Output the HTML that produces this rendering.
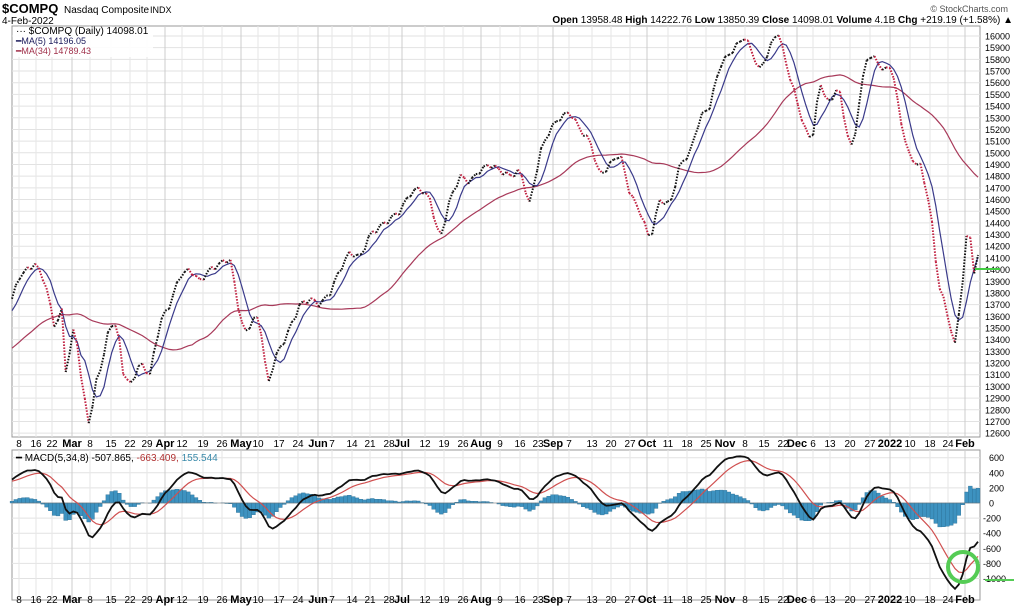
<!DOCTYPE html>
<html><head><meta charset="utf-8"><style>
body{margin:0;background:#fff;width:1024px;height:608px;overflow:hidden;font-family:"Liberation Sans",sans-serif}
svg text{font-family:"Liberation Sans",sans-serif}
</style></head><body>
<svg id="s" width="1024" height="608" xmlns="http://www.w3.org/2000/svg">
<text x="2" y="13" font-size="13" font-weight="bold">$COMPQ</text>
<text x="64" y="13" font-size="10">Nasdaq Composite</text><text x="150" y="13" font-size="9">INDX</text>
<text x="2" y="24" font-size="10">4-Feb-2022</text>
<text x="1008" y="12" font-size="9" fill="#555" text-anchor="end">© StockCharts.com</text>
<text x="1013" y="23" font-size="10" text-anchor="end"><tspan font-weight="bold">Open</tspan> 13958.48 <tspan font-weight="bold">High</tspan> 14222.76 <tspan font-weight="bold">Low</tspan> 13850.39 <tspan font-weight="bold">Close</tspan> 14098.01 <tspan font-weight="bold">Volume</tspan> 4.1B <tspan font-weight="bold">Chg</tspan> +219.19 (+1.58%) ▲</text>
<g id="g"></g>
<rect x="13" y="27" width="140" height="30" fill="#fff" opacity="0.9"/>
<text x="16" y="34" font-size="10" font-family="Liberation Mono">··· $COMPQ (Daily) 14098.01</text>
<text x="16" y="44" font-size="9" fill="#1a1a5a">━MA(5) 14196.05</text>
<text x="16" y="54" font-size="9" fill="#a0304a">━MA(34) 14789.43</text>
<text x="16" y="461" font-size="10">━ MACD(5,34,8) -507.865, <tspan fill="#b03030">-663.409,</tspan> <tspan fill="#3a8aaa">155.544</tspan></text>
</svg>
<script>
const g=document.getElementById('g');let h='';
const X0=12,X1=980,PT=26,PB=437,MT=450,MB=600;
const py=v=>36+(16000-v)*0.1168, my=v=>503-v*0.0755;
h+=`<rect x="${X0}" y="${PT}" width="${X1-X0}" height="${PB-PT}" fill="none" stroke="#999"/>`;
h+=`<rect x="${X0}" y="${MT}" width="${X1-X0}" height="${MB-MT}" fill="none" stroke="#999"/>`;
for(let v=12600;v<=16000;v+=100){let y=py(v);h+=`<line x1="${X0}" x2="${X1}" y1="${y}" y2="${y}" stroke="#e2e2e2"/><text x="985" y="${y+3.5}" font-size="9">${v}</text>`;}
for(let v=-1000;v<=600;v+=200){let y=my(v);h+=`<line x1="${X0}" x2="${X1}" y1="${y}" y2="${y}" stroke="#e2e2e2"/><text x="${v<0?983:989}" y="${y+3.5}" font-size="9">${v}</text>`;}
const L=[[19,'8'],[36,'16'],[52,'22'],[72,'Mar',1],[90,'8'],[111,'15'],[130,'22'],[147,'29'],[165,'Apr',1],[182,'12'],[203,'19'],[222,'26'],[241,'May',1],[258,'10'],[279,'17'],[298,'24'],[318,'Jun',1],[332,'7'],[352,'14'],[370,'21'],[389,'28'],[402,'Jul',1],[425,'12'],[444,'19'],[463,'26'],[481,'Aug',1],[500,'9'],[520,'16'],[538,'23'],[553,'Sep',1],[569,'7'],[592,'13'],[611,'20'],[630,'27'],[647,'Oct',1],[668,'11'],[687,'18'],[706,'25'],[725,'Nov',1],[745,'8'],[764,'15'],[783,'22'],[797,'Dec',1],[813,'6'],[830,'13'],[850,'20'],[870,'27'],[890,'2022',1],[910,'10'],[930,'18'],[948,'24'],[965,'Feb',1]];
for(const [x,t,b] of L){h+=`<line x1="${x}" x2="${x}" y1="${PT}" y2="${PB}" stroke="${b?'#ccc':'#e6e6e6'}"/><line x1="${x}" x2="${x}" y1="${MT}" y2="${MB}" stroke="${b?'#ccc':'#e6e6e6'}"/>`;
for(const y of [447,603])h+=`<text x="${x}" y="${y}" font-size="${b?11:10}" ${b?'font-weight="bold"':''} text-anchor="middle">${t}</text>`;}
const K=[[12,13750],[20,13950],[35,14050],[45,13900],[55,13500],[62,13650],[66,13100],[75,13550],[82,13000],[90,12650],[95,13000],[105,13300],[110,13550],[118,13500],[122,13150],[130,13000],[140,13200],[150,13100],[160,13550],[170,13700],[180,13950],[190,14000],[200,13900],[210,14000],[220,14050],[230,14100],[240,13600],[245,13450],[255,13600],[260,13550],[268,13000],[275,13250],[282,13350],[290,13500],[300,13700],[310,13750],[320,13700],[330,13800],[340,14000],[350,14150],[360,14100],[370,14300],[385,14400],[400,14500],[410,14650],[420,14700],[430,14600],[440,14250],[450,14600],[460,14800],[470,14750],[480,14850],[490,14900],[500,14850],[510,14800],[520,14850],[530,14550],[540,15000],[550,15200],[560,15300],[570,15350],[580,15200],[590,15100],[600,14800],[610,14900],[620,15000],[630,14650],[640,14500],[650,14250],[660,14600],[670,14550],[680,14900],[690,15000],[700,15300],[710,15400],[720,15750],[730,15850],[740,15950],[745,16000],[755,15800],[760,15700],[770,15900],[778,16050],[785,15800],[795,15500],[805,15200],[812,15100],[820,15600],[830,15400],[838,15600],[845,15250],[853,15000],[860,15500],[868,15850],[875,15800],[885,15700],[892,15750],[900,15300],[910,14950],[920,14900],[930,14550],[938,13900],[945,13700],[955,13350],[962,13850],[968,14400],[972,14200],[975,13900],[978,14100]];
function iv(x){for(let i=0;i<K.length-1;i++)if(x<=K[i+1][0]){let a=K[i],b=K[i+1],t=(x-a[0])/(b[0]-a[0]);return a[1]+(b[1]-a[1])*t;}return K[K.length-1][1];}
const N=253,dx=(978-12)/(N-1),W=45;let P=[],xs=[];
for(let i=0;i<W;i++){P.push(12700+i*22+Math.sin(i*1.3)*60);xs.push(null);}
for(let i=0;i<N;i++){let x=12+i*dx;xs.push(x);P.push(iv(x)+Math.sin(i*2.1)*25);}
const ma=n=>P.map((_,i)=>{let s=0,c=0;for(let j=Math.max(0,i-n+1);j<=i;j++){s+=P[j];c++;}return s/c;});
const m5=ma(5),m34=ma(34);
const ema=(a,n)=>{let k=2/(n+1),r=[],e=a[0];for(const v of a){e=v*k+e*(1-k);r.push(e);}return r;};
const e5=ema(P,5),e34=ema(P,34),mac=e5.map((v,i)=>v-e34[i]),sig=ema(mac,8);
const line=(arr,f,col,w)=>{let d='';for(let i=W;i<P.length;i++)d+=(i==W?'M':'L')+xs[i].toFixed(1)+','+f(arr[i]).toFixed(1);return `<path d="${d}" fill="none" stroke="${col}" stroke-width="${w}"/>`;};
for(let i=W;i<P.length;i++){let v=mac[i]-sig[i],y0=my(0),y1=my(v);h+=`<rect x="${(xs[i]-dx/2).toFixed(1)}" y="${Math.min(y0,y1).toFixed(1)}" width="${dx.toFixed(2)}" height="${Math.abs(y1-y0).toFixed(1)}" fill="#3d92c0" stroke="#2a6f95" stroke-width="0.4"/>`;}
h+=`<line x1="${X0}" x2="${X1}" y1="${my(0)}" y2="${my(0)}" stroke="#777" stroke-width="0.6"/>`;
h+=line(sig,my,'#d05050',1.2)+line(mac,my,'#111',1.8);
h+=line(m34,py,'#a83a5a',1.2)+line(m5,py,'#3a3a8a',1.2);
for(let i=W+1;i<P.length;i++){let c=P[i]>=P[i-1]?'#111':'#c02040';h+=`<line x1="${xs[i-1].toFixed(1)}" y1="${py(P[i-1]).toFixed(1)}" x2="${xs[i].toFixed(1)}" y2="${py(P[i]).toFixed(1)}" stroke="${c}" stroke-width="2" stroke-dasharray="1.5,1.5"/>`;}
h+=`<line x1="975" x2="1000" y1="269" y2="269" stroke="#4c4" stroke-width="2"/>`;
h+=`<circle cx="963" cy="567" r="15" fill="none" stroke="#5c5" stroke-width="4"/><line x1="985" x2="1014" y1="580" y2="580" stroke="#5c5" stroke-width="2"/>`;
g.innerHTML=h;
</script>
</body></html>
